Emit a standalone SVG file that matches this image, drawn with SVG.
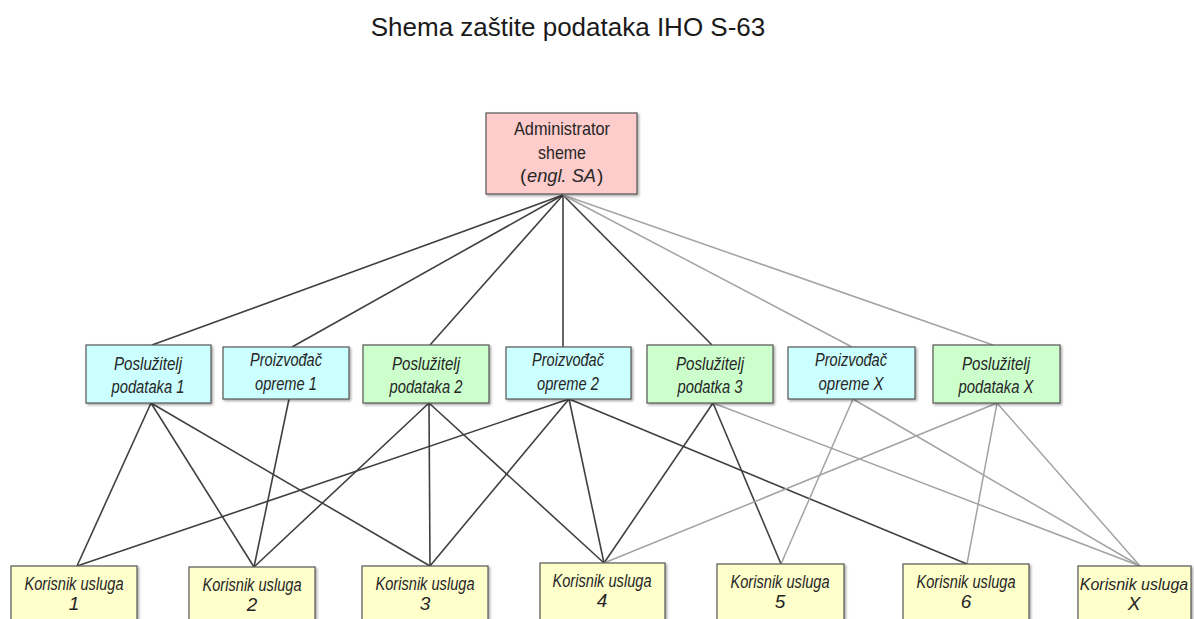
<svg xmlns="http://www.w3.org/2000/svg" width="1194" height="619" viewBox="0 0 1194 619">
<defs>
<filter id="sh" x="-10%" y="-10%" width="125%" height="130%">
<feDropShadow dx="1.5" dy="1.5" stdDeviation="0.8" flood-color="#000" flood-opacity="0.35"/>
</filter>
<style>
.title{font-family:"Liberation Sans",Arial,sans-serif;font-size:26px;fill:#1a1a1a}
.box{stroke:#555;stroke-width:1.2;filter:url(#sh)}
.admin{fill:#ffcccc}
.cyan{fill:#ccffff}
.green{fill:#ccffcc}
.yellow{fill:#ffffcc}
text.t{font-family:"Liberation Sans",Arial,sans-serif;font-size:19px;fill:#262626;text-anchor:middle}
text.s{font-family:"Liberation Sans",Arial,sans-serif;font-size:19px;fill:#262626;text-anchor:start}
text.i{font-style:italic}
.dark{stroke:#404040;stroke-width:1.6;fill:none}
.light{stroke:#a3a3a3;stroke-width:1.5;fill:none}
</style>
</defs>
<rect width="1194" height="619" fill="#ffffff"/>
<text class="title" x="568" y="36" text-anchor="middle">Shema zaštite podataka IHO S-63</text>

<g id="connectors">
<line class="dark" x1="563" y1="195" x2="152" y2="345"/>
<line class="dark" x1="563" y1="195" x2="292" y2="347"/>
<line class="dark" x1="563" y1="195" x2="430" y2="345"/>
<line class="dark" x1="563" y1="195" x2="563" y2="347"/>
<line class="dark" x1="563" y1="195" x2="712" y2="345"/>
<line class="light" x1="563" y1="195" x2="852" y2="347"/>
<line class="light" x1="563" y1="195" x2="993" y2="345"/>

<line class="dark" x1="151" y1="403" x2="77" y2="566"/>
<line class="dark" x1="151" y1="403" x2="254" y2="567"/>
<line class="dark" x1="151" y1="403" x2="430" y2="566"/>
<line class="dark" x1="289" y1="399" x2="254" y2="567"/>
<line class="dark" x1="429" y1="403" x2="254" y2="567"/>
<line class="dark" x1="429" y1="403" x2="430" y2="566"/>
<line class="dark" x1="429" y1="403" x2="604" y2="563"/>
<line class="dark" x1="569" y1="399" x2="77" y2="566"/>
<line class="dark" x1="569" y1="399" x2="430" y2="566"/>
<line class="dark" x1="569" y1="399" x2="604" y2="563"/>
<line class="dark" x1="569" y1="399" x2="967" y2="564"/>
<line class="dark" x1="713" y1="403" x2="604" y2="563"/>
<line class="dark" x1="713" y1="403" x2="781" y2="564"/>
<line class="light" x1="713" y1="403" x2="1140" y2="566"/>
<line class="light" x1="853" y1="399" x2="781" y2="564"/>
<line class="light" x1="853" y1="399" x2="1140" y2="566"/>
<line class="light" x1="997" y1="403" x2="604" y2="563"/>
<line class="light" x1="997" y1="403" x2="967" y2="564"/>
<line class="light" x1="997" y1="403" x2="1140" y2="566"/>
</g>

<g id="admin">
<rect class="box admin" x="486" y="113" width="151" height="81"/>
<text class="t" x="562" y="135" textLength="96" lengthAdjust="spacingAndGlyphs">Administrator</text>
<text class="t" x="562" y="159" textLength="48" lengthAdjust="spacingAndGlyphs">sheme</text>
<text class="s" x="520" y="182">(</text>
<text class="s i" x="527" y="182" textLength="69" lengthAdjust="spacingAndGlyphs">engl. SA</text>
<text class="s" x="597" y="182">)</text>
</g>

<g id="posluzitelj1">
<rect class="box cyan" x="86" y="345" width="125" height="58"/>
<text class="t i" x="148" y="370" textLength="68" lengthAdjust="spacingAndGlyphs">Poslužitelj</text>
<text class="t i" x="148" y="393" textLength="73" lengthAdjust="spacingAndGlyphs">podataka 1</text>
</g>
<g id="proizvodjac1">
<rect class="box cyan" x="223" y="347" width="126" height="52"/>
<text class="t i" x="286" y="366" textLength="72" lengthAdjust="spacingAndGlyphs">Proizvođač</text>
<text class="t i" x="286" y="390" textLength="62" lengthAdjust="spacingAndGlyphs">opreme 1</text>
</g>
<g id="posluzitelj2">
<rect class="box green" x="363" y="345" width="126" height="58"/>
<text class="t i" x="426" y="370" textLength="68" lengthAdjust="spacingAndGlyphs">Poslužitelj</text>
<text class="t i" x="426" y="393" textLength="73" lengthAdjust="spacingAndGlyphs">podataka 2</text>
</g>
<g id="proizvodjac2">
<rect class="box cyan" x="506" y="347" width="125" height="52"/>
<text class="t i" x="568" y="366" textLength="72" lengthAdjust="spacingAndGlyphs">Proizvođač</text>
<text class="t i" x="568" y="390" textLength="62" lengthAdjust="spacingAndGlyphs">opreme 2</text>
</g>
<g id="posluzitelj3">
<rect class="box green" x="647" y="345" width="126" height="58"/>
<text class="t i" x="710" y="370" textLength="68" lengthAdjust="spacingAndGlyphs">Poslužitelj</text>
<text class="t i" x="710" y="393" textLength="65" lengthAdjust="spacingAndGlyphs">podatka 3</text>
</g>
<g id="proizvodjacX">
<rect class="box cyan" x="788" y="347" width="127" height="52"/>
<text class="t i" x="851" y="366" textLength="72" lengthAdjust="spacingAndGlyphs">Proizvođač</text>
<text class="t i" x="851" y="390" textLength="65" lengthAdjust="spacingAndGlyphs">opreme X</text>
</g>
<g id="posluziteljX">
<rect class="box green" x="933" y="345" width="127" height="58"/>
<text class="t i" x="996" y="370" textLength="68" lengthAdjust="spacingAndGlyphs">Poslužitelj</text>
<text class="t i" x="996" y="393" textLength="75" lengthAdjust="spacingAndGlyphs">podataka X</text>
</g>

<g id="korisnik1">
<rect class="box yellow" x="11" y="566" width="126" height="60"/>
<text class="t i" x="74" y="590" textLength="99" lengthAdjust="spacingAndGlyphs">Korisnik usluga</text>
<text class="t i" x="74" y="610">1</text>
</g>
<g id="korisnik2">
<rect class="box yellow" x="189" y="567" width="126" height="60"/>
<text class="t i" x="252" y="591" textLength="99" lengthAdjust="spacingAndGlyphs">Korisnik usluga</text>
<text class="t i" x="252" y="611">2</text>
</g>
<g id="korisnik3">
<rect class="box yellow" x="362" y="566" width="126" height="60"/>
<text class="t i" x="425" y="590" textLength="99" lengthAdjust="spacingAndGlyphs">Korisnik usluga</text>
<text class="t i" x="425" y="610">3</text>
</g>
<g id="korisnik4">
<rect class="box yellow" x="540" y="563" width="125" height="62"/>
<text class="t i" x="602" y="587" textLength="99" lengthAdjust="spacingAndGlyphs">Korisnik usluga</text>
<text class="t i" x="602" y="607">4</text>
</g>
<g id="korisnik5">
<rect class="box yellow" x="717" y="564" width="127" height="62"/>
<text class="t i" x="780" y="588" textLength="99" lengthAdjust="spacingAndGlyphs">Korisnik usluga</text>
<text class="t i" x="780" y="608">5</text>
</g>
<g id="korisnik6">
<rect class="box yellow" x="903" y="564" width="126" height="62"/>
<text class="t i" x="966" y="588" textLength="99" lengthAdjust="spacingAndGlyphs">Korisnik usluga</text>
<text class="t i" x="966" y="608">6</text>
</g>
<g id="korisnikX">
<rect class="box yellow" x="1078" y="566" width="113" height="60"/>
<text class="t i" x="1134" y="590" style="font-size:16px">Korisnik usluga</text>
<text class="t i" x="1134" y="610">X</text>
</g>
</svg>
